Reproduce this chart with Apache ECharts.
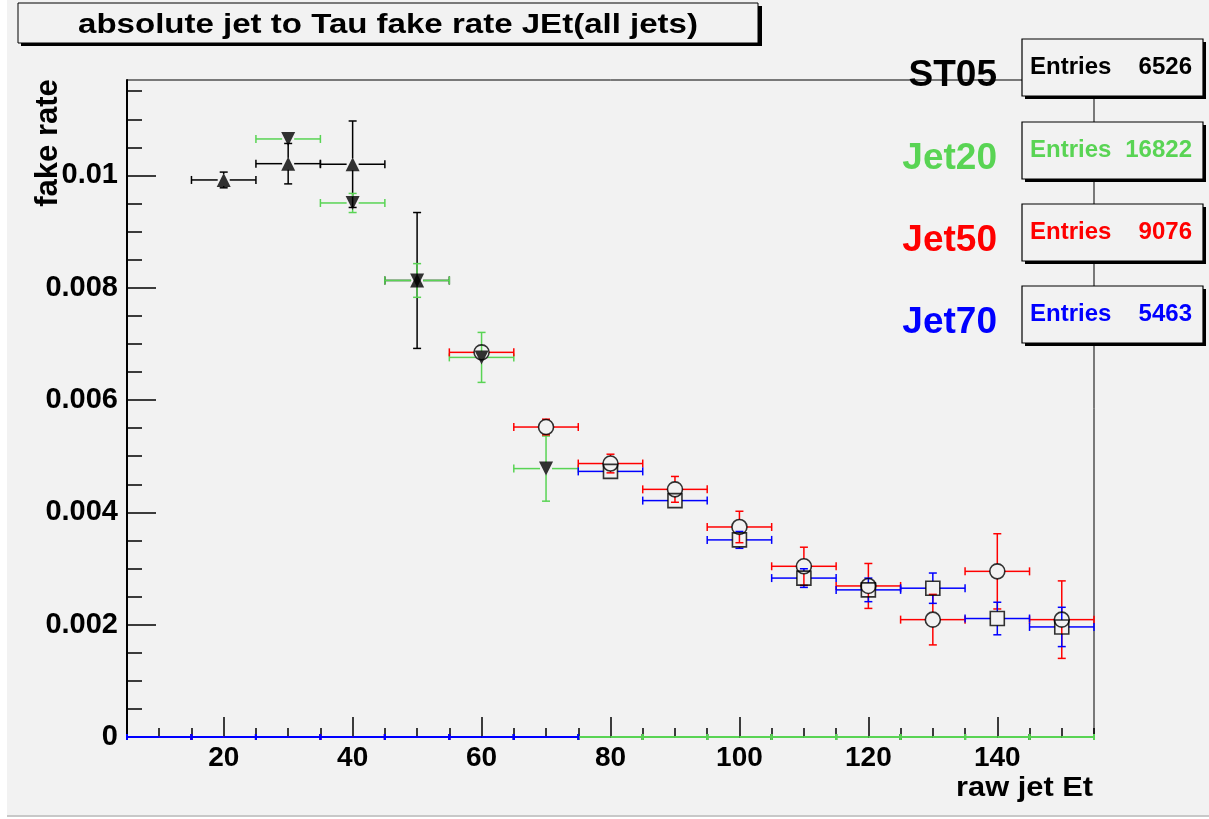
<!DOCTYPE html>
<html>
<head>
<meta charset="utf-8">
<script src="https://cdn.jsdelivr.net/npm/echarts@6/dist/echarts.min.js"></script>
<style>
  html, body { margin: 0; padding: 0; background: #ffffff; }
  #main { width: 1209px; height: 819px; }
</style>
</head>
<body>
<div id="main"></div>
<script>
// bin centres (bin width 10)
var binCenters = [10, 20, 30, 40, 50, 60, 70, 80, 90, 100, 110, 120, 130, 140, 150];
var binHalfWidth = 5;

// fake rate per bin, 0 = empty bin
var st05 = [0, 0.00992, 0.01021, 0.01020, 0.00813, 0, 0, 0, 0, 0, 0, 0, 0, 0, 0];
var st05Err = [0, 0.00014, 0.00036, 0.00077, 0.00121, 0, 0, 0, 0, 0, 0, 0, 0, 0, 0];

var jet20 = [0, 0, 0.01065, 0.00951, 0.00813, 0.00676, 0.00478, 0, 0, 0, 0, 0, 0, 0, 0];
var jet20Err = [0, 0, 0.0001, 0.00017, 0.0003, 0.000445, 0.00058, 0, 0, 0, 0, 0, 0, 0, 0];

var jet50 = [0, 0, 0, 0, 0, 0.00685, 0.00552, 0.00487, 0.00441, 0.00374, 0.00304, 0.00269, 0.00209, 0.00295, 0.00209];
var jet50Err = [0, 0, 0, 0, 0, 0.00008, 0.00014, 0.000166, 0.00023, 0.00028, 0.00034, 0.0004, 0.00045, 0.00067, 0.00069];

var jet70 = [0, 0, 0, 0, 0, 0, 0, 0.00473, 0.00421, 0.00351, 0.00283, 0.00262, 0.00265, 0.00211, 0.00196];
var jet70Err = [0, 0, 0, 0, 0, 0, 0, 0.00005, 0.00005, 0.00015, 0.000166, 0.00021, 0.00027, 0.00029, 0.00035];

var seriesNames = ['ST05', 'Jet20', 'Jet50', 'Jet70'];
var entries = [6526, 16822, 9076, 5463];
var lineColors = ['#000000', '#59d454', '#ff0000', '#0000ff'];

var xMajorTicks = [20, 40, 60, 80, 100, 120, 140];
var xMinorTicks = [5, 10, 15, 25, 30, 35, 45, 50, 55, 65, 70, 75, 85, 90, 95, 105, 110, 115, 125, 130, 135, 145, 150, 155];
var yMajorTicks = [0, 0.002, 0.004, 0.006, 0.008, 0.01];
var yMinorTicks = [0.0005, 0.001, 0.0015, 0.0025, 0.003, 0.0035, 0.0045, 0.005, 0.0055, 0.0065, 0.007, 0.0075, 0.0085, 0.009, 0.0095, 0.0105, 0.011, 0.0115];

var chart = echarts.init(document.getElementById('main'));
var FONT = '"Liberation Sans", Arial, Helvetica, sans-serif';

function rows(vals, errs) {
  return binCenters.map(function (x, i) { return [x, vals[i], binHalfWidth, errs[i]]; });
}

// error bars drawn ROOT style: gap around the marker, end caps
function errorSeries(vals, errs, color, gap) {
  return {
    type: 'custom',
    xAxisIndex: 0, yAxisIndex: 0,
    data: rows(vals, errs),
    clip: false,
    renderItem: function (params, api) {
      var x = api.value(0), y = api.value(1), ex = api.value(2), ey = api.value(3);
      var p = api.coord([x, y]);
      var left = api.coord([x - ex, y])[0];
      var right = api.coord([x + ex, y])[0];
      var dy = api.size([0, ey])[1];
      var g = y > 0 ? gap : 0;
      var st = { stroke: color, lineWidth: y > 0 ? 1.5 : 2 };
      var cap = y > 0 ? 4 : 3;
      var kids = [];
      kids.push({ type: 'line', shape: { x1: left, y1: p[1], x2: p[0] - g, y2: p[1] }, style: st });
      kids.push({ type: 'line', shape: { x1: p[0] + g, y1: p[1], x2: right, y2: p[1] }, style: st });
      kids.push({ type: 'line', shape: { x1: left, y1: p[1] - cap, x2: left, y2: p[1] + cap }, style: st });
      kids.push({ type: 'line', shape: { x1: right, y1: p[1] - cap, x2: right, y2: p[1] + cap }, style: st });
      if (y > 0 && dy > g) {
        kids.push({ type: 'line', shape: { x1: p[0], y1: p[1] - dy, x2: p[0], y2: p[1] - g }, style: st });
        kids.push({ type: 'line', shape: { x1: p[0], y1: p[1] + g, x2: p[0], y2: p[1] + dy }, style: st });
        kids.push({ type: 'line', shape: { x1: p[0] - 4, y1: p[1] - dy, x2: p[0] + 4, y2: p[1] - dy }, style: st });
        kids.push({ type: 'line', shape: { x1: p[0] - 4, y1: p[1] + dy, x2: p[0] + 4, y2: p[1] + dy }, style: st });
      }
      return { type: 'group', children: kids };
    }
  };
}

function markerSeries(vals, symbol, size, rotate, filled) {
  var d = [];
  binCenters.forEach(function (x, i) { if (vals[i] > 0) d.push([x, vals[i]]); });
  return {
    type: 'scatter',
    xAxisIndex: 0, yAxisIndex: 0,
    data: d,
    symbol: symbol,
    symbolSize: size,
    symbolRotate: rotate,
    itemStyle: filled ? { color: '#000000' } : { color: 'rgba(0,0,0,0)', borderColor: '#000000', borderWidth: 1.6 },
    emphasis: { disabled: true }
  };
}

var graphics = [
  { type: 'rect', z: -10, silent: true, shape: { x: 7, y: 0, width: 1202, height: 815 }, style: { fill: '#f2f2f2' } },
  { type: 'rect', z: -10, silent: true, shape: { x: 7, y: 815, width: 1202, height: 2 }, style: { fill: '#c8c8c8' } },
  // title box
  { type: 'rect', z: 50, shape: { x: 21, y: 6, width: 741, height: 40 }, style: { fill: '#000' } },
  { type: 'rect', z: 51, shape: { x: 18, y: 3, width: 740, height: 40 }, style: { fill: '#f2f2f2', stroke: '#000', lineWidth: 1 } },
  { type: 'text', z: 52, x: 388, y: 25, scaleX: 1.18, style: { text: 'absolute jet to Tau fake rate JEt(all jets)', font: 'bold 28px ' + FONT, fill: '#000', align: 'center', verticalAlign: 'middle' } },
  // axis titles
  { type: 'text', z: 52, x: 48, y: 143, rotation: Math.PI / 2, style: { text: 'fake rate', font: 'bold 31px ' + FONT, fill: '#000', align: 'center', verticalAlign: 'middle' } },
  { type: 'text', z: 52, x: 1093, y: 788, scaleX: 1.1, style: { text: 'raw jet Et', font: 'bold 28px ' + FONT, fill: '#000', align: 'right', verticalAlign: 'middle' } }
];
// stat boxes + legend labels
var boxTops = [39, 122, 204, 286];
seriesNames.forEach(function (name, i) {
  var t = boxTops[i];
  graphics.push({ type: 'rect', z: 50, shape: { x: 1025, y: t + 3, width: 181, height: 57 }, style: { fill: '#000' } });
  graphics.push({ type: 'rect', z: 51, shape: { x: 1022, y: t, width: 181, height: 57 }, style: { fill: '#f2f2f2', stroke: '#000', lineWidth: 1.2 } });
  graphics.push({ type: 'text', z: 52, x: 1030, y: t + 28, style: { text: 'Entries', font: 'bold 24px ' + FONT, fill: lineColors[i], align: 'left', verticalAlign: 'middle' } });
  graphics.push({ type: 'text', z: 52, x: 1192, y: t + 28, style: { text: String(entries[i]), font: 'bold 24px ' + FONT, fill: lineColors[i], align: 'right', verticalAlign: 'middle' } });
  graphics.push({ type: 'text', z: 52, x: 997, y: t + 37, style: { text: name, font: 'bold 37px ' + FONT, fill: lineColors[i], align: 'right', verticalAlign: 'middle' } });
});

var axisCommon = { min: 5, max: 155, type: 'value', splitLine: { show: false } };

var option = {
  backgroundColor: 'transparent',
  animation: false,
  grid: { left: 127, top: 80, width: 967, height: 657, show: true, borderColor: '#000', borderWidth: 1, backgroundColor: 'transparent' },
  xAxis: [
    Object.assign({}, axisCommon, {
      position: 'bottom',
      axisLine: { show: true, onZero: false, lineStyle: { color: '#000', width: 1 } },
      axisTick: { show: true, inside: true, length: 20, customValues: xMajorTicks, lineStyle: { color: '#000', width: 1.5 } },
      axisLabel: { show: true, customValues: xMajorTicks, margin: 7, color: '#000', fontFamily: FONT, fontWeight: 'bold', fontSize: 28 }
    }),
    Object.assign({}, axisCommon, {
      position: 'bottom',
      axisLine: { show: false },
      axisTick: { show: true, inside: true, length: 9, customValues: xMinorTicks, lineStyle: { color: '#000', width: 1.5 } },
      axisLabel: { show: false }
    })
  ],
  yAxis: [
    {
      type: 'value', min: 0, max: 0.0117, splitLine: { show: false },
      axisLine: { show: true, onZero: false, lineStyle: { color: '#000', width: 2 } },
      axisTick: { show: true, inside: true, length: 29, customValues: yMajorTicks, lineStyle: { color: '#000', width: 1.5 } },
      axisLabel: {
        show: true, customValues: yMajorTicks, margin: 9, color: '#000', fontFamily: FONT, fontWeight: 'bold', fontSize: 29,
        formatter: function (v) { return v === 0 ? '0' : String(+v.toFixed(4)); }
      }
    },
    {
      type: 'value', min: 0, max: 0.0117, position: 'left', splitLine: { show: false },
      axisLine: { show: false },
      axisTick: { show: true, inside: true, length: 15, customValues: yMinorTicks, lineStyle: { color: '#000', width: 1.5 } },
      axisLabel: { show: false }
    }
  ],
  graphic: graphics,
  series: [
    errorSeries(st05, st05Err, lineColors[0], 6),
    markerSeries(st05, 'triangle', 14, 0, true),
    errorSeries(jet20, jet20Err, lineColors[1], 6),
    markerSeries(jet20, 'triangle', 14, 180, true),
    errorSeries(jet50, jet50Err, lineColors[2], 7.5),
    markerSeries(jet50, 'circle', 15, 0, false),
    errorSeries(jet70, jet70Err, lineColors[3], 7),
    markerSeries(jet70, 'rect', 14, 0, false)
  ]
};
chart.setOption(option);
</script>
</body>
</html>
